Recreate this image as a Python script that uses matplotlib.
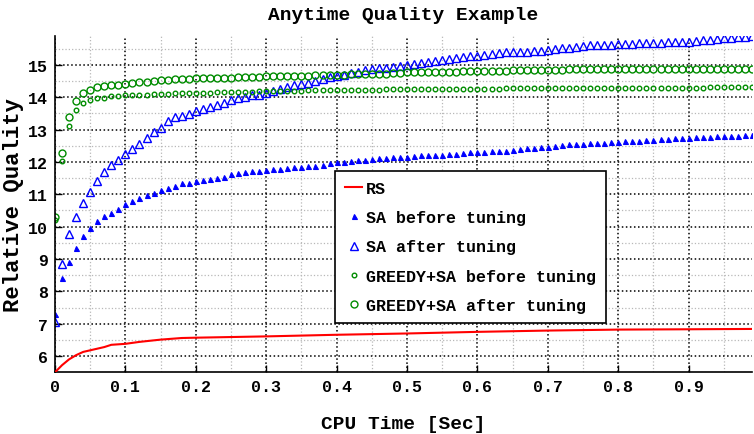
#! /usr/bin/env python3
# Anytime quality curves, MATLAB-ish look
import numpy as np
import matplotlib
matplotlib.use('Agg')
import matplotlib.pyplot as plt
from matplotlib.ticker import MultipleLocator

# DATA
cpu_time = [round(0.01*i, 2) for i in range(100)]

rs_time = [0.0, 0.01, 0.02, 0.03, 0.04, 0.05, 0.06, 0.07, 0.08, 0.1, 0.12, 0.15,
           0.18, 0.2, 0.3, 0.4, 0.5, 0.6, 0.7, 0.8, 0.9, 0.99]
rs_quality = [5.50, 5.72, 5.90, 6.03, 6.13, 6.18, 6.23, 6.28, 6.35, 6.38, 6.44, 6.51,
              6.56, 6.57, 6.61, 6.66, 6.70, 6.75, 6.79, 6.82, 6.83, 6.84]

sa_before = [
  7.30, 8.42, 8.91, 9.35, 9.70, 9.97, 10.18, 10.33, 10.42, 10.56,
  10.69, 10.78, 10.90, 10.99, 11.04, 11.14, 11.20, 11.26, 11.35, 11.35,
  11.41, 11.43, 11.48, 11.51, 11.55, 11.62, 11.66, 11.69, 11.71, 11.73,
  11.75, 11.77, 11.78, 11.82, 11.83, 11.84, 11.86, 11.88, 11.92, 11.97,
  11.99, 12.00, 12.03, 12.05, 12.06, 12.08, 12.12, 12.13, 12.15, 12.16,
  12.16, 12.18, 12.21, 12.22, 12.22, 12.22, 12.25, 12.25, 12.29, 12.30,
  12.30, 12.32, 12.34, 12.35, 12.35, 12.38, 12.41, 12.43, 12.44, 12.46,
  12.47, 12.49, 12.52, 12.54, 12.55, 12.56, 12.59, 12.59, 12.60, 12.61,
  12.61, 12.64, 12.64, 12.66, 12.69, 12.69, 12.70, 12.70, 12.74, 12.74,
  12.74, 12.76, 12.76, 12.77, 12.79, 12.79, 12.80, 12.81, 12.82, 12.84]

sa_after = [
  7.05, 8.84, 9.76, 10.29, 10.73, 11.07, 11.41, 11.69, 11.92, 12.07,
  12.23, 12.41, 12.56, 12.75, 12.94, 13.06, 13.25, 13.39, 13.43, 13.48,
  13.56, 13.63, 13.69, 13.77, 13.83, 13.90, 13.97, 14.02, 14.06, 14.08,
  14.13, 14.19, 14.26, 14.33, 14.38, 14.42, 14.45, 14.51, 14.57, 14.61,
  14.67, 14.70, 14.75, 14.79, 14.85, 14.88, 14.90, 14.91, 14.93, 14.96,
  14.98, 15.03, 15.06, 15.10, 15.12, 15.15, 15.19, 15.21, 15.23, 15.26,
  15.28, 15.30, 15.33, 15.36, 15.39, 15.40, 15.41, 15.41, 15.43, 15.44,
  15.46, 15.49, 15.51, 15.52, 15.55, 15.59, 15.60, 15.61, 15.61, 15.62,
  15.63, 15.64, 15.65, 15.67, 15.68, 15.69, 15.69, 15.70, 15.71, 15.71,
  15.72, 15.75, 15.76, 15.77, 15.80, 15.82, 15.83, 15.85, 15.87, 15.90]

greedy_before = [
  10.20, 12.03, 13.12, 13.59, 13.83, 13.92, 13.97, 13.99, 14.03, 14.04,
  14.06, 14.07, 14.08, 14.08, 14.10, 14.11, 14.11, 14.12, 14.12, 14.13,
  14.13, 14.14, 14.14, 14.15, 14.15, 14.16, 14.16, 14.17, 14.17, 14.18,
  14.19, 14.19, 14.19, 14.20, 14.20, 14.20, 14.21, 14.21, 14.21, 14.22,
  14.22, 14.22, 14.22, 14.23, 14.23, 14.23, 14.23, 14.24, 14.24, 14.24,
  14.25, 14.25, 14.25, 14.25, 14.25, 14.25, 14.26, 14.26, 14.26, 14.26,
  14.26, 14.26, 14.26, 14.26, 14.27, 14.27, 14.27, 14.27, 14.27, 14.27,
  14.27, 14.27, 14.27, 14.28, 14.28, 14.28, 14.28, 14.28, 14.28, 14.28,
  14.28, 14.28, 14.29, 14.29, 14.29, 14.29, 14.29, 14.29, 14.29, 14.29,
  14.29, 14.29, 14.29, 14.30, 14.30, 14.30, 14.30, 14.30, 14.30, 14.30]

greedy_after = [
  10.30, 12.28, 13.40, 13.88, 14.13, 14.23, 14.30, 14.34, 14.38, 14.39,
  14.42, 14.45, 14.48, 14.48, 14.49, 14.54, 14.54, 14.55, 14.56, 14.57,
  14.58, 14.58, 14.58, 14.59, 14.60, 14.60, 14.61, 14.62, 14.62, 14.63,
  14.64, 14.64, 14.65, 14.65, 14.65, 14.66, 14.67, 14.68, 14.69, 14.69,
  14.70, 14.70, 14.71, 14.71, 14.72, 14.72, 14.72, 14.73, 14.74, 14.75,
  14.77, 14.77, 14.78, 14.78, 14.78, 14.79, 14.79, 14.79, 14.80, 14.80,
  14.80, 14.81, 14.81, 14.82, 14.82, 14.83, 14.83, 14.84, 14.84, 14.84,
  14.85, 14.85, 14.85, 14.86, 14.86, 14.86, 14.87, 14.87, 14.87, 14.87,
  14.88, 14.88, 14.88, 14.88, 14.88, 14.88, 14.88, 14.88, 14.88, 14.88,
  14.88, 14.88, 14.88, 14.88, 14.88, 14.88, 14.88, 14.88, 14.88, 14.88]

xticks = [0, 0.1, 0.2, 0.3, 0.4, 0.5, 0.6, 0.7, 0.8, 0.9]
xticklabels = ["0", "0.1", "0.2", "0.3", "0.4", "0.5", "0.6", "0.7", "0.8", "0.9"]
yticks = [6, 7, 8, 9, 10, 11, 12, 13, 14, 15]

# GLOBAL SETTINGS
plt.rcParams.update({
  'font.family':      ['Liberation Mono', 'DejaVu Sans Mono'],
  'font.weight':      'bold',
  'axes.labelweight': 'bold',
  'axes.titleweight': 'bold',
})
green = (0.0, 0.55, 0.0)

fig = plt.figure(figsize=(7.54, 4.35), dpi=100)
ax = fig.add_axes([0.0729, 0.1418, 0.9245, 0.7738])

ax.plot(rs_time, rs_quality, color='red', linewidth=1.5, label='RS', zorder=3)
ax.plot(cpu_time, sa_before, linestyle='none', marker='^', markersize=3.6,
        color='blue', markerfacecolor='blue', markeredgewidth=0.8, label='SA before tuning')
ax.plot(cpu_time, sa_after, linestyle='none', marker='^', markersize=6,
        color='blue', markerfacecolor='none', markeredgewidth=1.0, label='SA after tuning')
ax.plot(cpu_time, greedy_before, linestyle='none', marker='o', markersize=3.3,
        color=green, markerfacecolor='none', markeredgewidth=1.0, label='GREEDY+SA before tuning')
ax.plot(cpu_time, greedy_after, linestyle='none', marker='o', markersize=5,
        color=green, markerfacecolor='none', markeredgewidth=1.0, label='GREEDY+SA after tuning')

# AXES
ax.set_xlim(0, 0.99)
ax.set_ylim(5.5, 15.9)
ax.set_xticks(xticks)
ax.set_xticklabels(xticklabels)
ax.set_yticks(yticks)
ax.xaxis.set_minor_locator(MultipleLocator(0.05))
ax.yaxis.set_minor_locator(MultipleLocator(0.5))
ax.tick_params(which='major', direction='in', length=5, width=1, labelsize=12,
               top=False, right=False, pad=5)
ax.tick_params(which='minor', length=0)
ax.grid(True, which='major', color='black', linestyle=':', linewidth=1.1)
ax.grid(True, which='minor', color='#b8b8b8', linestyle=':', linewidth=0.9)
ax.set_axisbelow(True)
for side in ['top', 'right']:
  ax.spines[side].set_visible(False)
for side in ['left', 'bottom']:
  ax.spines[side].set_linewidth(1.2)

ax.set_title("Anytime Quality Example", fontsize=14, pad=12)
ax.set_xlabel("CPU Time [Sec]", fontsize=14, labelpad=15)
ax.set_ylabel("Relative Quality", fontsize=16, labelpad=3)

leg = ax.legend(loc='upper left', bbox_to_anchor=(0.402, 0.598), fontsize=12,
                frameon=True, fancybox=False, numpoints=1, handlelength=1.0,
                handletextpad=0.25, labelspacing=0.85, borderpad=0.6,
                borderaxespad=0)
leg.get_frame().set_edgecolor('black')
leg.get_frame().set_linewidth(1.2)
leg.get_frame().set_alpha(1)

fig.savefig("out.png", dpi=100)
print(">>> Created out.png")
